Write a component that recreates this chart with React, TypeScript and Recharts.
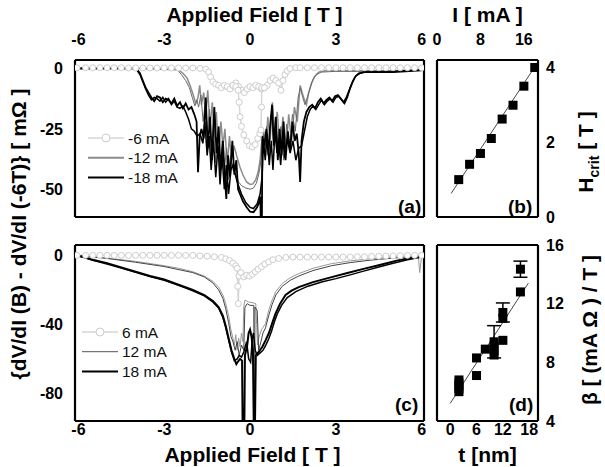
import { LineChart, Line, XAxis, YAxis, Legend, ComposedChart, Scatter, ErrorBar } from 'recharts';

// panel (a): negative bias currents, [field T, dV/dI difference mOhm]
const aMinus6Flat: number[][] = [
  [-6.05, 0.3], [-5.75, 0.3], [-5.5, 0.3], [-5.25, 0.3], [-5, 0.3], [-4.75, 0.3], [-4.5, 0.3], [-4.25, 0.2],
  [-4, 0.2], [-3.75, 0.2], [-3.5, 0.2], [-3.25, 0.2], [-3, 0.2], [-2.75, 0.2], [-2.5, 0.2], [-2.25, 0.2],
  [-2, 0.2], [-1.75, 0], [-1.55, -0.3], [-1.45, -1.5], [-1.38, -3.5], [-1.3, -5.5], [-1.2, -6.5], [-1.1, -7],
  [-1.0, -8], [-0.9, -7], [-0.8, -7.5], [-0.7, -8.5], [-0.6, -7], [-0.5, -6], [-0.4, -7.5], [-0.3, -9],
  [-0.2, -10], [-0.1, -8.5], [0, -7.5], [0.1, -8], [0.2, -7], [0.3, -7.5], [0.4, -8.5], [0.5, -8],
  [0.6, -7], [0.7, -5], [0.8, -4], [0.9, -5], [1.0, -6], [1.08, -9], [1.15, -5], [1.22, -2.5],
  [1.3, -1], [1.4, 0], [1.6, 0.3], [1.75, 0.3], [2, 0.3], [2.25, 0.3], [2.5, 0.3], [2.75, 0.3],
  [3, 0.3], [3.25, 0.3], [3.5, 0.3], [3.75, 0.3], [4, 0.3], [4.25, 0.3], [4.5, 0.3], [4.75, 0.3],
  [5, 0.3], [5.25, 0.3], [5.5, 0.3], [5.75, 0.3], [6, 0.3],
];
const aMinus6Dip: number[][] = [
  [-0.6, -7], [-0.5, -7.5], [-0.42, -9], [-0.38, -14], [-0.35, -20], [-0.3, -24], [-0.22, -27.5], [-0.12, -30],
  [-0.02, -32], [0.08, -32.5], [0.18, -31.5], [0.27, -29], [0.34, -27], [0.38, -25.5], [0.4, -16], [0.41, -8], [0.5, -8],
];
const aMinus12First: number[][] = [
  [-6.05, 0], [-4, 0], [-3, -0.3], [-2.5, -0.5], [-2.35, -2], [-2.2, -4], [-2.1, -7], [-2.0, -10.5],
  [-1.9, -14.5], [-1.82, -12], [-1.76, -7], [-1.7, -15], [-1.62, -10], [-1.55, -20], [-1.48, -9], [-1.4, -24],
  [-1.32, -14], [-1.25, -30], [-1.18, -18], [-1.1, -36], [-1.02, -22], [-0.95, -32], [-0.88, -25], [-0.8, -40],
  [-0.72, -28], [-0.65, -38], [-0.56, -32], [-0.45, -37], [-0.35, -41], [-0.25, -44], [-0.12, -47], [0, -48],
  [0.1, -47.8], [0.2, -46], [0.28, -43], [0.35, -38], [0.4, -31], [0.48, -26], [0.55, -33], [0.62, -20],
  [0.7, -30], [0.78, -14], [0.86, -28], [0.95, -18], [1.05, -34], [1.15, -20], [1.25, -35], [1.35, -19],
  [1.45, -30], [1.55, -16], [1.65, -22], [1.75, -7], [1.82, -10], [1.9, -13], [1.97, -15], [2.05, -10],
  [2.15, -6], [2.25, -3.5], [2.4, -1.5], [2.6, -1], [3, -1], [4, -1], [5, -1], [6, -0.5],
];
const aMinus12Second: number[][] = [
  [-6.05, 0], [-4, 0], [-3, -0.3], [-2.55, -0.5], [-2.4, -2.5], [-2.25, -5], [-2.12, -8], [-2.02, -12],
  [-1.93, -15.5], [-1.86, -13], [-1.8, -16], [-1.72, -11], [-1.64, -22], [-1.57, -14], [-1.5, -27], [-1.42, -17],
  [-1.35, -33], [-1.27, -21], [-1.2, -39], [-1.12, -26], [-1.05, -44], [-0.97, -30], [-0.9, -42], [-0.82, -33],
  [-0.75, -46], [-0.68, -36], [-0.6, -42], [-0.5, -44], [-0.4, -47], [-0.3, -48.5], [-0.15, -49.5], [0, -50],
  [0.12, -49.5], [0.22, -47.5], [0.3, -44], [0.36, -40], [0.42, -33], [0.47, -27], [0.52, -36], [0.58, -24],
  [0.66, -34], [0.74, -19], [0.82, -31], [0.9, -22], [0.99, -36], [1.08, -24], [1.18, -38], [1.28, -23],
  [1.38, -33], [1.48, -19], [1.58, -26], [1.68, -12], [1.76, -8], [1.84, -12], [1.92, -15], [2.0, -12],
  [2.1, -8], [2.2, -4.5], [2.32, -2.5], [2.5, -1.5], [3, -1.2], [4, -1.2], [5, -1], [6, -0.5],
];
const aMinus18First: number[][] = [
  [-6.05, 0], [-5, 0], [-4.1, 0], [-3.95, -0.5], [-3.85, -2], [-3.75, -5], [-3.65, -8], [-3.55, -10],
  [-3.45, -12], [-3.35, -13.5], [-3.25, -11.5], [-3.15, -12], [-3.05, -14], [-2.95, -12.5], [-2.85, -13], [-2.75, -14.5],
  [-2.65, -12.5], [-2.55, -15.5], [-2.45, -14], [-2.35, -16.5], [-2.25, -14.5], [-2.15, -17], [-2.05, -16], [-1.95, -19],
  [-1.87, -22], [-1.82, -43], [-1.76, -28], [-1.7, -25], [-1.62, -29], [-1.55, -12], [-1.48, -33], [-1.4, -20],
  [-1.33, -38], [-1.25, -16], [-1.17, -35], [-1.1, -24], [-1.03, -42], [-0.95, -30], [-0.88, -46], [-0.83, -54],
  [-0.77, -36], [-0.7, -45], [-0.62, -30], [-0.55, -44], [-0.48, -38], [-0.42, -50], [-0.35, -52], [-0.25, -55],
  [-0.12, -57.5], [0, -59.3], [0.12, -59.5], [0.22, -58], [0.3, -56], [0.36, -53], [0.38, -70], [0.41, -70],
  [0.43, -28], [0.5, -32], [0.57, -25], [0.64, -36], [0.7, -24], [0.77, -15], [0.83, -32], [0.9, -20],
  [0.97, -38], [1.03, -25], [1.1, -36], [1.17, -22], [1.24, -38], [1.32, -26], [1.4, -34], [1.48, -22],
  [1.56, -30], [1.63, -27], [1.7, -35], [1.75, -47], [1.8, -30], [1.88, -22], [1.97, -18], [2.07, -16],
  [2.17, -15], [2.27, -16.5], [2.37, -14], [2.47, -12.5], [2.57, -14.5], [2.67, -13], [2.77, -12], [2.87, -13.5],
  [2.97, -11.5], [3.07, -11], [3.17, -12.5], [3.27, -14], [3.37, -12], [3.47, -9], [3.57, -6], [3.67, -3.5],
  [3.8, -2], [4, -1.5], [5, -1.5], [6, -0.8],
];
const aMinus18Second: number[][] = [
  [-6.05, 0], [-4.1, 0], [-3.95, -0.8], [-3.85, -2.5], [-3.75, -5.5], [-3.65, -8.5], [-3.55, -11], [-3.45, -13],
  [-3.35, -12], [-3.25, -12.5], [-3.15, -13.5], [-3.05, -12], [-2.95, -14], [-2.85, -12.5], [-2.75, -15], [-2.65, -13.5],
  [-2.55, -16], [-2.45, -16.5], [-2.35, -15.5], [-2.25, -18], [-2.15, -21], [-2.05, -25], [-1.95, -26], [-1.85, -28],
  [-1.75, -27], [-1.65, -31], [-1.58, -22], [-1.5, -36], [-1.43, -28], [-1.36, -42], [-1.28, -30], [-1.2, -45],
  [-1.12, -32], [-1.05, -48], [-0.98, -36], [-0.9, -50], [-0.83, -40], [-0.75, -52], [-0.67, -42], [-0.6, -40],
  [-0.45, -47], [-0.3, -52], [-0.15, -55.5], [0, -57.5], [0.12, -58], [0.25, -56], [0.35, -52], [0.42, -45],
  [0.47, -30], [0.53, -38], [0.6, -27], [0.67, -40], [0.74, -30], [0.8, -42], [0.87, -26], [0.94, -35],
  [1.0, -30], [1.07, -40], [1.14, -28], [1.21, -37], [1.3, -29], [1.4, -35], [1.5, -30], [1.6, -38],
  [1.7, -33], [1.8, -32], [1.9, -26], [2.0, -20], [2.1, -17], [2.2, -15.5], [2.3, -17], [2.4, -15],
  [2.5, -13], [2.6, -15], [2.7, -13.5], [2.8, -12.5], [2.9, -14], [3.0, -12], [3.1, -11.5], [3.2, -13],
  [3.3, -14.5], [3.4, -12], [3.5, -8], [3.6, -5], [3.7, -3], [3.85, -2], [4, -1.5], [5, -1.3], [6, -0.5],
];

// panel (c): positive bias currents
const c6: number[][] = [
  [-6.05, 0], [-5.75, 0], [-5.5, 0], [-5.25, 0], [-5, 0], [-4.75, 0], [-4.5, 0], [-4.25, 0],
  [-4, 0], [-3.75, 0], [-3.5, 0], [-3.25, 0], [-3, 0], [-2.75, 0], [-2.5, 0], [-2.25, 0],
  [-2, 0], [-1.75, -0.3], [-1.5, -0.5], [-1.25, -0.8], [-1, -1.2], [-0.85, -2], [-0.72, -3], [-0.6, -4.5],
  [-0.5, -6], [-0.45, -7.5], [-0.43, -18], [-0.41, -28], [-0.39, -12], [-0.32, -10], [-0.22, -12.5], [-0.12, -11.5],
  [-0.02, -12], [0.08, -11], [0.18, -9.5], [0.28, -8], [0.4, -6.5], [0.52, -5], [0.65, -3.8], [0.8, -2.5],
  [1, -1.8], [1.25, -1.2], [1.5, -1], [1.75, -1], [2, -1], [2.25, -1], [2.5, -1], [2.75, -1],
  [3, -1], [3.25, -1], [3.5, -1], [3.75, -0.8], [4, -0.8], [4.25, -0.6], [4.5, -0.5], [4.75, -0.4],
  [5, -0.3], [5.25, -0.2], [5.5, 0], [5.75, 0], [6, 0],
];
const c12First: number[][] = [
  [-6.05, 0], [-5, -1.5], [-4, -3.5], [-3, -6], [-2.5, -7.5], [-2, -9.5], [-1.6, -12], [-1.3, -15],
  [-1.1, -18.5], [-0.95, -23], [-0.85, -28], [-0.75, -35], [-0.67, -43], [-0.6, -48], [-0.55, -52], [-0.5, -46],
  [-0.45, -55], [-0.4, -48], [-0.35, -53], [-0.3, -45], [-0.25, -50], [-0.22, -30], [-0.18, -26], [-0.05, -27],
  [0.1, -27.5], [0.2, -28], [0.23, -40], [0.26, -52], [0.3, -48], [0.4, -43], [0.54, -39.6], [0.65, -32],
  [0.77, -26], [0.9, -21], [1.12, -16.4], [1.4, -13], [1.7, -10.6], [2.2, -7.5], [2.85, -4.8], [3.5, -3.2],
  [4.2, -2], [5, -1], [5.88, 0], [5.93, -10], [6, 0],
];
const c12Second: number[][] = [
  [-6.05, 0], [-5, -1.8], [-4, -4], [-3, -6.5], [-2, -10], [-1.6, -12.5], [-1.3, -16], [-1.1, -20],
  [-0.95, -25], [-0.85, -31], [-0.75, -39], [-0.67, -47], [-0.6, -50], [-0.52, -55], [-0.45, -50], [-0.38, -58],
  [-0.3, -52], [-0.22, -55], [-0.18, -30], [-0.1, -28], [0, -29], [0.1, -29], [0.13, -29], [0.14, -100],
  [0.16, -100], [0.17, -30], [0.25, -32], [0.3, -55], [0.38, -50], [0.45, -45], [0.54, -42], [0.65, -35],
  [0.77, -28.5], [0.9, -23], [1.12, -18], [1.4, -14.5], [1.7, -12], [2.2, -8.8], [2.85, -6], [3.5, -4.2],
  [4.2, -2.8], [5, -1.6], [6, -0.3],
];
const c18First: number[][] = [
  [-6.05, 0], [-5.8, -1], [-5.5, -2.5], [-5, -4.5], [-4.5, -7], [-4, -9.5], [-3.5, -12], [-3, -14],
  [-2.5, -17], [-2, -20], [-1.6, -23], [-1.3, -26.5], [-1.1, -30], [-0.95, -35], [-0.85, -41], [-0.75, -48],
  [-0.65, -55], [-0.55, -60], [-0.48, -63], [-0.42, -61.5], [-0.35, -60], [-0.28, -61], [-0.26, -100], [-0.2, -100],
  [-0.18, -58], [-0.1, -52], [-0.05, -45], [0, -43], [0.05, -47], [0.1, -55], [0.13, -100], [0.17, -100],
  [0.2, -58], [0.3, -56], [0.43, -53], [0.55, -49], [0.66, -45], [0.78, -39], [0.89, -33.8], [1.05, -28],
  [1.24, -23], [1.45, -20.5], [1.7, -18.4], [2.2, -15.5], [2.85, -12.6], [3.4, -10.2], [4, -7.7], [4.6, -5.3],
  [5.16, -2.9], [5.6, -1.5], [6, -0.5],
];
const c18Second: number[][] = [
  [-6.05, -0.3], [-5.8, -1.3], [-5.5, -2.8], [-5, -5], [-4.5, -7.4], [-4, -9.8], [-3.5, -12.3], [-3, -14.4],
  [-2.5, -17.4], [-2, -20.5], [-1.6, -23.5], [-1.3, -27], [-1.1, -30.5], [-0.95, -36], [-0.85, -42], [-0.75, -49],
  [-0.65, -56], [-0.55, -61], [-0.45, -60], [-0.38, -58], [-0.3, -59], [-0.22, -56], [-0.12, -50], [-0.05, -60],
  [0.02, -62], [0.08, -48], [0.12, -45], [0.18, -55], [0.25, -58], [0.35, -56.5], [0.45, -55], [0.55, -52],
  [0.65, -48.5], [0.75, -44], [0.85, -38.5], [0.95, -34], [1.1, -29], [1.3, -24.5], [1.6, -21], [2, -18],
  [2.5, -15.5], [3, -13.5], [3.5, -11.3], [4, -9], [4.5, -6.8], [5, -4.6], [5.5, -2.6], [6, -1],
];

// panel (b): critical field vs current
const currents = [4, 6, 8, 10, 12, 14, 16, 18];
const hCrit = [1.0, 1.41, 1.7, 2.1, 2.62, 2.99, 3.5, 4.0];
const hFit: number[][] = [[2.6, 0.63], [18.3, 4.08]];

// panel (d): slope beta vs film thickness
const thickness = [2, 2, 2, 2, 2, 6, 6, 8, 10, 10, 10, 10, 12, 12, 12, 16, 16];
const beta = [6.0, 6.2, 6.4, 6.6, 6.8, 7.1, 8.3, 8.9, 8.5, 8.8, 9.1, 9.4, 9.5, 11.0, 11.4, 12.8, 14.35];
const betaErr = [0, 0, 0, 0, 0, 0, 0, 0, 0, 0, 0, 1.1, 0, 0, 0.65, 0, 0.55];
const betaFit: number[][] = [[0, 5.2], [17.8, 13.4]];

const fieldDomain = [-6.12, 6.08];
const fieldLabels = [-6, -3, 0, 3, 6];
const fieldMarks = [-6, -4.5, -3, -1.5, 0, 1.5, 3, 4.5, 6];

const font = '"Liberation Sans", Arial, Helvetica, sans-serif';
const tickFont = { fontSize: 16, fontWeight: 700, fill: '#000', fontFamily: font };
const titleFont = { fontSize: 21, fontWeight: 700, fill: '#000', fontFamily: font };
const frameLine = { stroke: '#000', strokeWidth: 2.2 };
const frameTick = { stroke: '#000', strokeWidth: 1.5 };

const LIGHT = '#d6d6d6';
const lightDot = { r: 3, stroke: '#cdcdcd', strokeWidth: 1, fill: '#fff' };

const toField = (arr: number[][]) => arr.map(([b, v]) => ({ b, v }));

function frameAxes(xKey: string, yKey: string, xd: number[], yd: number[], xt: number[], yt: number[]) {
  const common = { mirror: true, allowDataOverflow: true, interval: 0 as const, tick: false, tickSize: 5, tickLine: frameTick, axisLine: frameLine };
  return [
    <XAxis key="ft" xAxisId="f" dataKey={xKey} type="number" orientation="top" domain={xd} ticks={xt} {...common} />,
    <XAxis key="fb" xAxisId="g" dataKey={xKey} type="number" orientation="bottom" domain={xd} ticks={xt} {...common} />,
    <YAxis key="fl" yAxisId="f" dataKey={yKey} type="number" orientation="left" domain={yd} ticks={yt} {...common} />,
    <YAxis key="fr" yAxisId="g" dataKey={yKey} type="number" orientation="right" domain={yd} ticks={yt} {...common} />,
  ];
}

type KeyRow = { name: string; color: string; width: number; circle?: boolean };

function SeriesKey({ rows }: { rows: KeyRow[] }) {
  return (
    <svg width={110} height={62}>
      {rows.map((r, i) => (
        <g key={r.name}>
          <line x1={2} x2={38} y1={10 + i * 19.7} y2={10 + i * 19.7} stroke={r.color} strokeWidth={r.width} />
          {r.circle && <circle cx={20} cy={10 + i * 19.7} r={4} stroke="#cdcdcd" fill="#fff" />}
          <text x={42} y={10 + i * 19.7} dominantBaseline="central" fontSize={15.5} fontFamily={font} fill="#111">{r.name}</text>
        </g>
      ))}
    </svg>
  );
}

const keyA: KeyRow[] = [
  { name: '-6 mA', color: LIGHT, width: 1.5, circle: true },
  { name: '-12 mA', color: '#8c8c8c', width: 2 },
  { name: '-18 mA', color: '#000', width: 2 },
];
const keyC: KeyRow[] = [
  { name: '6 mA', color: LIGHT, width: 1.5, circle: true },
  { name: '12 mA', color: '#555', width: 1 },
  { name: '18 mA', color: '#000', width: 2 },
];

const panelText = { position: 'absolute' as const, fontFamily: font, fontWeight: 700, fontSize: 19, lineHeight: '20px', color: '#000' };
const sideTitle = {
  position: 'absolute' as const, fontFamily: font, fontWeight: 700, fontSize: 21, color: '#000',
  whiteSpace: 'nowrap' as const, transform: 'translate(-50%, -50%) rotate(-90deg)', lineHeight: '24px',
};

export default function App() {
  const bData = currents.map((i, k) => ({ i, h: hCrit[k] }));
  const dData = thickness.map((t, k) => ({ t, beta: beta[k], err: betaErr[k] }));
  const square = (p: any) => <rect x={p.cx - 4.5} y={p.cy - 4.5} width={9} height={9} fill="#000" />;

  return (
    <div style={{ position: 'absolute', left: 0, top: 0, width: 605, height: 467, background: '#fff', fontFamily: font }}>
      {/* (a) */}
      <div style={{ position: 'absolute', left: 0, top: 0 }}>
        <LineChart width={440} height={230} margin={{ top: 0, right: 16, bottom: 13, left: 0 }}>
          <XAxis xAxisId="l" dataKey="b" type="number" orientation="top" domain={fieldDomain} allowDataOverflow ticks={fieldLabels} interval={0}
            height={60} axisLine={false} tickLine={false} tickSize={0} tickMargin={15} tick={tickFont}
            label={{ value: 'Applied Field [ T ]', position: 'insideTop', offset: 7, dx: 5, ...titleFont }} />
          <YAxis yAxisId="l" dataKey="v" type="number" orientation="left" width={75} domain={[-61.5, 3.5]} allowDataOverflow ticks={[-50, -25, 0]} interval={0}
            axisLine={false} tickLine={false} tickSize={0} tickMargin={12} tick={tickFont} />
          {frameAxes('b', 'v', fieldDomain, [-61.5, 3.5], fieldMarks, [-50, -37.5, -25, -12.5, 0])}
          <Line xAxisId="f" yAxisId="f" data={toField(aMinus6Flat)} dataKey="v" stroke={LIGHT} strokeWidth={1.5} dot={lightDot} activeDot={false} isAnimationActive={false} />
          <Line xAxisId="f" yAxisId="f" data={toField(aMinus6Dip)} dataKey="v" stroke={LIGHT} strokeWidth={1.5} dot={lightDot} activeDot={false} isAnimationActive={false} />
          <Line xAxisId="f" yAxisId="f" data={toField(aMinus12First)} dataKey="v" stroke="#8c8c8c" strokeWidth={1.5} dot={false} activeDot={false} isAnimationActive={false} />
          <Line xAxisId="f" yAxisId="f" data={toField(aMinus12Second)} dataKey="v" stroke="#6a6a6a" strokeWidth={1} dot={false} activeDot={false} isAnimationActive={false} />
          <Line xAxisId="f" yAxisId="f" data={toField(aMinus18First)} dataKey="v" stroke="#000" strokeWidth={1.8} dot={false} activeDot={false} isAnimationActive={false} />
          <Line xAxisId="f" yAxisId="f" data={toField(aMinus18Second)} dataKey="v" stroke="#000" strokeWidth={1.5} dot={false} activeDot={false} isAnimationActive={false} />
          <Legend layout="horizontal" verticalAlign="middle" align="center" wrapperStyle={{ left: 86, top: 128, width: 110 }}
            content={() => <SeriesKey rows={keyA} />} />
        </LineChart>
      </div>

      {/* (b) */}
      <div style={{ position: 'absolute', left: 430, top: 0 }}>
        <ComposedChart width={175} height={230} margin={{ top: 0, right: 0, bottom: 13, left: 7 }}>
          <XAxis xAxisId="l" dataKey="i" type="number" orientation="top" domain={[0, 18.6]} allowDataOverflow ticks={[0, 8, 16]} interval={0}
            height={60} axisLine={false} tickLine={false} tickSize={0} tickMargin={15} tick={tickFont}
            label={{ value: 'I [ mA ]', position: 'insideTop', offset: 7, ...titleFont }} />
          <YAxis yAxisId="l" dataKey="h" type="number" orientation="right" width={67} domain={[0, 4.2]} allowDataOverflow ticks={[0, 2, 4]} interval={0}
            axisLine={false} tickLine={false} tickSize={0} tickMargin={8} tick={tickFont} />
          {frameAxes('i', 'h', [0, 18.6], [0, 4.2], [0, 4, 8, 12, 16], [0, 1, 2, 3, 4])}
          <Line xAxisId="f" yAxisId="f" data={hFit.map(([i, h]) => ({ i, h }))} dataKey="h" stroke="#333" strokeWidth={0.9} dot={false} activeDot={false} isAnimationActive={false} />
          <Scatter xAxisId="f" yAxisId="f" data={bData} dataKey="h" shape={square} isAnimationActive={false} />
        </ComposedChart>
      </div>

      {/* (c) */}
      <div style={{ position: 'absolute', left: 0, top: 230 }}>
        <LineChart width={440} height={237} margin={{ top: 15, right: 16, bottom: 0, left: 0 }}>
          <XAxis xAxisId="l" dataKey="b" type="number" orientation="bottom" domain={fieldDomain} allowDataOverflow ticks={fieldLabels} interval={0}
            height={46} axisLine={false} tickLine={false} tickSize={0} tickMargin={3} tick={tickFont}
            label={{ value: 'Applied Field [ T ]', position: 'insideBottom', offset: 5, dx: 3, ...titleFont }} />
          <YAxis yAxisId="l" dataKey="v" type="number" orientation="left" width={75} domain={[-96, 6]} allowDataOverflow ticks={[-80, -40, 0]} interval={0}
            axisLine={false} tickLine={false} tickSize={0} tickMargin={12} tick={tickFont} />
          {frameAxes('b', 'v', fieldDomain, [-96, 6], fieldMarks, [-80, -60, -40, -20, 0])}
          <Line xAxisId="f" yAxisId="f" data={toField(c6)} dataKey="v" stroke={LIGHT} strokeWidth={1.5} dot={lightDot} activeDot={false} isAnimationActive={false} />
          <Line xAxisId="f" yAxisId="f" data={toField(c12First)} dataKey="v" stroke="#999" strokeWidth={1} dot={false} activeDot={false} isAnimationActive={false} />
          <Line xAxisId="f" yAxisId="f" data={toField(c12Second)} dataKey="v" stroke="#444" strokeWidth={1} dot={false} activeDot={false} isAnimationActive={false} />
          <Line xAxisId="f" yAxisId="f" data={toField(c18First)} dataKey="v" stroke="#000" strokeWidth={2} dot={false} activeDot={false} isAnimationActive={false} />
          <Line xAxisId="f" yAxisId="f" data={toField(c18Second)} dataKey="v" stroke="#000" strokeWidth={1.5} dot={false} activeDot={false} isAnimationActive={false} />
          <Legend layout="horizontal" verticalAlign="middle" align="center" wrapperStyle={{ left: 80, top: 92, width: 110 }}
            content={() => <SeriesKey rows={keyC} />} />
        </LineChart>
      </div>

      {/* (d) */}
      <div style={{ position: 'absolute', left: 430, top: 230 }}>
        <ComposedChart width={175} height={237} margin={{ top: 15, right: 0, bottom: 0, left: 7 }}>
          <XAxis xAxisId="l" dataKey="t" type="number" orientation="bottom" domain={[-3, 20]} allowDataOverflow ticks={[0, 6, 12, 18]} interval={0}
            height={46} axisLine={false} tickLine={false} tickSize={0} tickMargin={3} tick={tickFont}
            label={{ value: 't [nm]', position: 'insideBottom', offset: 5, ...titleFont }} />
          <YAxis yAxisId="l" dataKey="beta" type="number" orientation="right" width={67} domain={[4, 16]} allowDataOverflow ticks={[4, 8, 12, 16]} interval={0}
            axisLine={false} tickLine={false} tickSize={0} tickMargin={8} tick={tickFont} />
          {frameAxes('t', 'beta', [-3, 20], [4, 16], [0, 3, 6, 9, 12, 15, 18], [4, 6, 8, 10, 12, 14, 16])}
          <Line xAxisId="f" yAxisId="f" data={betaFit.map(([t, b]) => ({ t, beta: b }))} dataKey="beta" stroke="#333" strokeWidth={0.9} dot={false} activeDot={false} isAnimationActive={false} />
          <Scatter xAxisId="f" yAxisId="f" data={dData} dataKey="beta" shape={square} isAnimationActive={false}>
            <ErrorBar dataKey="err" direction="y" width={7} stroke="#000" strokeWidth={1.5} />
          </Scatter>
        </ComposedChart>
      </div>

      <div style={{ ...sideTitle, left: 19, top: 234 }}>{'{dV/dI (B) - dV/dI (-6T)} [ m\u03A9 ]'}</div>
      <div style={{ ...sideTitle, left: 590, top: 152 }}>H<sub style={{ fontSize: 14 }}>crit</sub> [ T ]</div>
      <div style={{ ...sideTitle, left: 590, top: 330 }}>{'\u03B2 [ (mA \u03A9 ) / T ]'}</div>

      <div style={{ ...panelText, left: 398, top: 197 }}>(a)</div>
      <div style={{ ...panelText, left: 508, top: 197 }}>(b)</div>
      <div style={{ ...panelText, left: 395, top: 395 }}>(c)</div>
      <div style={{ ...panelText, left: 509, top: 395 }}>(d)</div>
    </div>
  );
}
